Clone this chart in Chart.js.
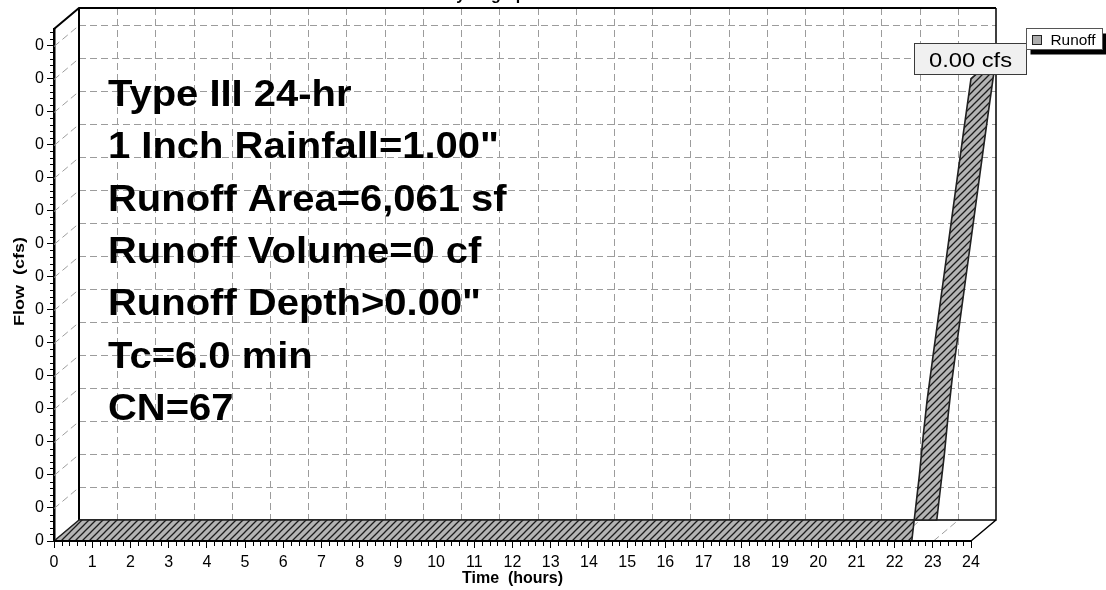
<!DOCTYPE html>
<html>
<head>
<meta charset="utf-8">
<script src="https://cdn.jsdelivr.net/npm/chart.js@4.4.1/dist/chart.umd.min.js"></script>
<style>
  html, body { margin: 0; padding: 0; background: #fff; overflow: hidden; }
  #wrap { width: 1106px; height: 590px; position: relative; }
</style>
</head>
<body>
<div id="wrap"><canvas id="c" width="1106" height="590"></canvas></div>
<script>
const FONT = '"Liberation Sans", Arial, Helvetica, sans-serif';

// Runoff hydrograph: time (hours) against flow (cfs)
const times = [0, 22.45, 22.55, 22.65, 22.75, 22.85, 23.0, 23.2, 23.4, 23.6, 23.8, 24.0];
const flows = [0, 0, 0.000020, 0.000040, 0.000064, 0.000085, 0.000111, 0.000145, 0.000179, 0.000213, 0.000247, 0.000280];

const xTicks = [0, 1, 2, 3, 4, 5, 6, 7, 8, 9, 10, 11, 12, 13, 14, 15, 16, 17, 18, 19, 20, 21, 22, 23, 24];
const yTicks = [0, 0.00002, 0.00004, 0.00006, 0.00008, 0.0001, 0.00012, 0.00014,
                0.00016, 0.00018, 0.0002, 0.00022, 0.00024, 0.00026, 0.00028, 0.0003];
const yMax = 0.00031;

const seriesName = 'Runoff';
const chartTitle = 'Hydrograph';
const xTitle = 'Time  (hours)';
const yTitle = 'Flow  (cfs)';
const notes = [
  'Type III 24-hr',
  '1 Inch Rainfall=1.00"',
  'Runoff Area=6,061 sf',
  'Runoff Volume=0 cf',
  'Runoff Depth>0.00"',
  'Tc=6.0 min',
  'CN=67'
];

// oblique depth of the 3-D box
const DX = 25, DY = -21;
const DASH = [7, 4];
const GRID = '#9c9c9c';

function hatchPattern(ctx) {
  const s = 7;
  const pc = document.createElement('canvas');
  pc.width = s; pc.height = s;
  const g = pc.getContext('2d');
  g.fillStyle = '#b4b4b4';
  g.fillRect(0, 0, s, s);
  g.strokeStyle = '#1c1c1c';
  g.lineWidth = 1.3;
  g.beginPath();
  g.moveTo(-1, s + 1); g.lineTo(s + 1, -1);
  g.moveTo(-1, 1); g.lineTo(1, -1);
  g.moveTo(s - 1, s + 1); g.lineTo(s + 1, s - 1);
  g.stroke();
  return ctx.createPattern(pc, 'repeat');
}

function drawText(ctx, text, x, y, font, sx, align) {
  ctx.save();
  ctx.font = font;
  ctx.textAlign = align || 'left';
  ctx.textBaseline = 'alphabetic';
  ctx.translate(x, y);
  ctx.scale(sx, 1);
  ctx.fillText(text, 0, 0);
  ctx.restore();
}

const box3d = {
  id: 'box3d',
  beforeDatasetsDraw(chart) {
    const { ctx, chartArea: a, scales: { x, y } } = chart;
    ctx.save();
    // dashed grid on the back wall, left wall and floor
    ctx.strokeStyle = GRID;
    ctx.lineWidth = 1;
    ctx.setLineDash(DASH);
    ctx.beginPath();
    yTicks.forEach(v => {
      if (v === 0) return;
      const py = Math.round(y.getPixelForValue(v)) + 0.5;
      ctx.moveTo(a.left + DX, py + DY);
      ctx.lineTo(a.right + DX, py + DY);
      ctx.moveTo(a.left, py);
      ctx.lineTo(a.left + DX, py + DY);
    });
    xTicks.forEach((v, i) => {
      if (i === 0 || i === xTicks.length - 1) return;
      const px = Math.round(x.getPixelForValue(v)) + 0.5;
      ctx.moveTo(px + DX, a.top + DY);
      ctx.lineTo(px + DX, a.bottom + DY);
      ctx.moveTo(px, a.bottom);
      ctx.lineTo(px + DX, a.bottom + DY);
    });
    ctx.stroke();
    ctx.setLineDash([]);

    // solid edges of the box
    ctx.strokeStyle = '#000';
    ctx.lineWidth = 2;
    ctx.beginPath();
    ctx.moveTo(a.left, a.top);
    ctx.lineTo(a.left + DX, a.top + DY);
    ctx.lineTo(a.right + DX, a.top + DY);
    ctx.moveTo(a.left + DX, a.top + DY);
    ctx.lineTo(a.left + DX, a.bottom + DY);
    ctx.stroke();
    ctx.lineWidth = 1.5;
    ctx.beginPath();
    ctx.moveTo(a.right + DX, a.top + DY);
    ctx.lineTo(a.right + DX, a.bottom + DY);
    ctx.lineTo(a.left + DX, a.bottom + DY);
    ctx.moveTo(a.right, a.bottom);
    ctx.lineTo(a.right + DX, a.bottom + DY);
    ctx.stroke();
    ctx.restore();
  },
  afterDatasetsDraw(chart) {
    const { ctx, chartArea: a } = chart;
    const pts = chart.getDatasetMeta(0).data.map(p => ({ x: p.x, y: p.y }));
    ctx.save();
    // extruded ribbon of the hydrograph
    ctx.beginPath();
    pts.forEach((p, i) => i ? ctx.lineTo(p.x, p.y) : ctx.moveTo(p.x, p.y));
    for (let i = pts.length - 1; i >= 0; i--) ctx.lineTo(pts[i].x + DX, pts[i].y + DY);
    ctx.closePath();
    ctx.fillStyle = hatchPattern(ctx);
    ctx.fill();
    ctx.strokeStyle = '#202020';
    ctx.lineWidth = 1.6;
    ctx.lineJoin = 'round';
    ctx.stroke();

    // front floor edge
    ctx.strokeStyle = '#000';
    ctx.lineWidth = 2;
    ctx.beginPath();
    ctx.moveTo(a.left, a.bottom);
    ctx.lineTo(a.right, a.bottom);
    ctx.stroke();
    ctx.restore();
  },
  afterDraw(chart) {
    const { ctx, chartArea: a, scales: { x, y } } = chart;
    ctx.save();
    ctx.fillStyle = '#000';

    // minor ticks
    ctx.strokeStyle = '#000';
    ctx.lineWidth = 1;
    ctx.beginPath();
    for (let i = 0; i < xTicks.length - 1; i++) {
      const st = (xTicks[i + 1] - xTicks[i]) / 5;
      for (let k = 1; k < 5; k++) {
        const px = Math.round(x.getPixelForValue(xTicks[i] + k * st)) + 0.5;
        ctx.moveTo(px, a.bottom);
        ctx.lineTo(px, a.bottom + 5);
      }
    }
    const ys = (yTicks[1] - yTicks[0]) / 5;
    for (let k = 1; k * ys <= yMax + 1e-12; k++) {
      if (k % 5 === 0) continue;
      const py = Math.round(y.getPixelForValue(k * ys)) + 0.5;
      ctx.moveTo(a.left - 4, py);
      ctx.lineTo(a.left, py);
    }
    ctx.stroke();

    // notes block
    notes.forEach((t, i) => {
      drawText(ctx, t, 108, 106 + i * 52.3, 'bold 37px ' + FONT, 1.08);
    });

    // peak label
    const meta = chart.getDatasetMeta(0);
    let pk = 0;
    flows.forEach((v, i) => { if (v > flows[pk]) pk = i; });
    const p = meta.data[pk];
    const label = flows[pk].toFixed(2) + ' cfs';
    ctx.font = '21px ' + FONT;
    const lsx = 1.13;
    const tw = ctx.measureText(label).width * lsx;
    const bw = Math.round(tw + 29), bh = 31;
    const bx = Math.round(p.x - 1 - bw / 2) + 0.5, by = Math.round(p.y - 5 - bh) + 0.5;
    ctx.fillStyle = '#f0f0f0';
    ctx.fillRect(bx, by, bw, bh);
    ctx.strokeStyle = '#3a3a3a';
    ctx.lineWidth = 1;
    ctx.strokeRect(bx, by, bw, bh);
    ctx.fillStyle = '#000';
    drawText(ctx, label, bx + bw / 2, by + 23.5, '21px ' + FONT, lsx, 'center');

    // legend with drop shadow
    const lx = 1026.5, ly = 28.5, lw = 76, lh = 21;
    ctx.fillStyle = '#000';
    ctx.fillRect(lx + 4, ly + 5, lw, lh);
    ctx.fillStyle = '#fff';
    ctx.fillRect(lx, ly, lw, lh);
    ctx.strokeStyle = '#555';
    ctx.strokeRect(lx, ly, lw, lh);
    ctx.fillStyle = '#acacac';
    ctx.fillRect(lx + 6, ly + 7, 9, 9);
    ctx.strokeStyle = '#222';
    ctx.strokeRect(lx + 6, ly + 7, 9, 9);
    ctx.fillStyle = '#000';
    drawText(ctx, chart.data.datasets[0].label, lx + 24, ly + 16, '14px ' + FONT, 1.1);

    // axis titles and (clipped) chart title
    drawText(ctx, xTitle, 512.5, 583, 'bold 16px ' + FONT, 1.0, 'center');
    ctx.save();
    ctx.translate(24, 281.5);
    ctx.rotate(-Math.PI / 2);
    drawText(ctx, yTitle, 0, 0, 'bold 15px ' + FONT, 1.2, 'center');
    ctx.restore();
    drawText(ctx, chartTitle, 490, 0, 'bold 16px ' + FONT, 1.0, 'center');
    ctx.restore();
  }
};

new Chart(document.getElementById('c'), {
  type: 'line',
  data: {
    datasets: [{
      label: seriesName,
      data: times.map((t, i) => ({ x: t, y: flows[i] })),
      showLine: false,
      pointRadius: 0,
      pointHoverRadius: 0,
      backgroundColor: '#acacac',
      borderColor: '#222'
    }]
  },
  options: {
    responsive: false,
    animation: false,
    events: [],
    layout: { padding: { top: 29, right: 135, left: 0, bottom: 0 } },
    plugins: { legend: { display: false }, tooltip: { enabled: false }, title: { display: false } },
    scales: {
      x: {
        type: 'linear',
        min: 0,
        max: 24,
        afterBuildTicks: s => { s.ticks = xTicks.map(v => ({ value: v })); },
        afterFit: s => { s.height = 49; },
        ticks: {
          autoSkip: false,
          maxRotation: 0,
          padding: 5,
          color: '#000',
          font: { family: FONT, size: 16 },
          callback: v => String(v)
        },
        grid: { drawOnChartArea: false, drawTicks: true, tickLength: 7, color: '#000', lineWidth: 1 },
        border: { display: true, color: '#000', width: 2 }
      },
      y: {
        type: 'linear',
        min: 0,
        max: yMax,
        afterBuildTicks: s => { s.ticks = yTicks.map(v => ({ value: v })); },
        afterFit: s => { s.width = 54; },
        ticks: {
          autoSkip: false,
          padding: 3,
          color: '#000',
          font: { family: FONT, size: 16 },
          callback: v => Number(v).toFixed(0)
        },
        grid: { drawOnChartArea: false, drawTicks: true, tickLength: 7, color: '#000', lineWidth: 1 },
        border: { display: true, color: '#000', width: 2.5 }
      }
    }
  },
  plugins: [box3d]
});
</script>
</body>
</html>
